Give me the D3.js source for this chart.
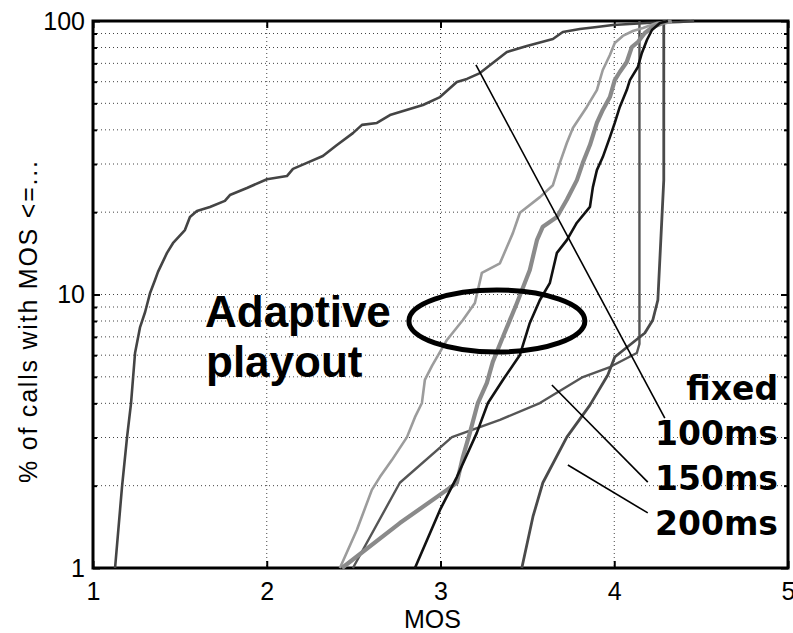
<!DOCTYPE html>
<html>
<head>
<meta charset="utf-8">
<script src="https://cdn.jsdelivr.net/npm/d3@7"></script>
<style>
  body { margin: 0; background: #fff; }
  svg { display: block; }
</style>
</head>
<body>
<svg id="chart" width="793" height="633"></svg>
<script>
// CDF of MOS per call: [MOS, % of calls with MOS <= value]
const fixed100 = [[1.127,1],[1.167,1.98],[1.196,3.01],[1.219,4.01],[1.242,6.11],[1.271,7.6],[1.30,8.63],[1.328,10.1],[1.357,11.3],[1.374,12.1],[1.426,14.2],[1.46,15.4],[1.529,17.2],[1.558,19.2],[1.598,20.2],[1.673,20.9],[1.759,22.0],[1.788,23.1],[1.886,24.5],[2.001,26.4],[2.116,27.1],[2.151,28.8],[2.231,30.3],[2.323,32.1],[2.404,35.2],[2.496,38.9],[2.548,41.7],[2.634,42.4],[2.709,45.3],[2.766,46.5],[2.899,49.3],[2.997,52.7],[3.094,59.8],[3.152,61.4],[3.227,64.5],[3.382,77.0],[3.497,81.0],[3.647,85.9],[3.704,91.2],[3.802,93.5],[3.90,95.1],[3.992,96.7],[4.188,98.3],[4.377,99.2],[4.46,100]];
const fixed150 = [[2.496,1],[2.766,2.05],[3.066,3.01],[3.342,3.48],[3.572,4.01],[3.819,4.99],[3.975,5.43],[4.13,6.11],[4.145,6.6],[4.145,100]];
const fixed200 = [[3.468,1],[3.532,1.54],[3.589,2.05],[3.727,3.01],[3.86,3.94],[3.963,5.08],[4.003,5.91],[4.176,7.23],[4.222,8.07],[4.251,9.55],[4.285,26.2],[4.285,100]];
const adaptiveLight = [[2.421,1],[2.519,1.38],[2.605,1.93],[2.651,2.15],[2.72,2.48],[2.807,3.01],[2.853,3.56],[2.893,4.01],[2.91,4.87],[2.951,5.48],[3.037,6.82],[3.129,8.07],[3.198,9.31],[3.238,12.0],[3.342,13.0],[3.417,16.8],[3.457,19.9],[3.572,22.7],[3.647,25.1],[3.687,30.3],[3.727,35.8],[3.762,40.6],[3.842,48.5],[3.90,55.9],[3.934,66.2],[3.975,75.1],[4.003,83.1],[4.049,88.2],[4.107,91.9],[4.165,94.3],[4.245,98.3],[4.32,100]];
const adaptiveThick = [[2.433,1],[2.766,1.46],[3.037,1.93],[3.094,2.05],[3.129,2.55],[3.169,3.12],[3.215,4.01],[3.267,4.75],[3.301,5.67],[3.359,6.99],[3.44,9.31],[3.514,12.3],[3.555,15.8],[3.589,17.7],[3.67,19.2],[3.727,22.2],[3.785,26.2],[3.819,30.3],[3.86,35.2],[3.90,42.4],[3.934,47.3],[3.975,52.7],[4.003,60.8],[4.032,65.1],[4.072,70.8],[4.101,80.3],[4.136,83.8],[4.176,90.4],[4.222,95.1],[4.28,98.3],[4.331,100]];
const adaptiveDark = [[2.853,1],[2.997,1.63],[3.094,2.15],[3.209,3.12],[3.273,4.01],[3.359,4.87],[3.457,6.01],[3.514,7.87],[3.572,9.55],[3.629,11.0],[3.67,14.2],[3.727,15.8],[3.785,18.3],[3.86,20.9],[3.877,24.7],[3.90,28.5],[3.934,31.8],[3.975,37.6],[4.003,42.4],[4.032,48.5],[4.072,55.9],[4.09,60.8],[4.136,67.9],[4.159,76.4],[4.188,85.2],[4.217,92.7],[4.263,98.3],[4.309,100]];

const xTicks = [1, 2, 3, 4, 5];
const yTicks = [1, 10, 100];
const yMinor = [2,3,4,5,6,7,8,9,20,30,40,50,60,70,80,90];

// pointer lines from the "fixed" labels to their curves
const pointers = [
  [[3.204, 69.1], [4.291, 3.53]],
  [[3.641, 4.67], [4.193, 2.06]],
  [[3.733, 2.38], [4.193, 1.59]]
];
const ellipseCenter = [3.3245, 8.0];

const M = {top: 21, right: 5, bottom: 65, left: 93};
const W = 793 - M.left - M.right, H = 633 - M.top - M.bottom;

const svg = d3.select("#chart");
const g = svg.append("g").attr("transform", `translate(${M.left},${M.top})`);

const x = d3.scaleLinear().domain([1, 5]).range([0, W]);
const y = d3.scaleLog().domain([1, 100]).range([H, 0]);

// dotted grid
const gridColor = "#444";
g.append("g").selectAll("line")
  .data(yMinor.concat([10]))
  .join("line")
    .attr("x1", 0).attr("x2", W)
    .attr("y1", d => y(d)).attr("y2", d => y(d))
    .attr("stroke", gridColor)
    .attr("stroke-width", 1)
    .attr("stroke-dasharray", "1,3");

g.append("g").selectAll("line")
  .data([2, 3, 4])
  .join("line")
    .attr("x1", d => x(d)).attr("x2", d => x(d))
    .attr("y1", 0).attr("y2", H)
    .attr("stroke", gridColor)
    .attr("stroke-width", 1)
    .attr("stroke-dasharray", "1,3");

// axes, ticks pointing inward
const styleAxis = (sel) => {
  sel.select(".domain").remove();
  sel.selectAll(".tick line").attr("stroke", "#000").attr("stroke-width", 2);
  sel.selectAll("text")
    .style("font-family", "'Liberation Sans', Arial, sans-serif")
    .style("font-size", "25px")
    .attr("fill", "#000");
};

g.append("g")
  .attr("transform", `translate(0,${H})`)
  .call(d3.axisBottom(x).tickValues(xTicks).tickFormat(d3.format("d")).tickSize(-7).tickSizeOuter(0).tickPadding(14))
  .call(styleAxis);

g.append("g")
  .call(d3.axisTop(x).tickValues(xTicks).tickFormat("").tickSize(-7).tickSizeOuter(0))
  .call(styleAxis);

g.append("g")
  .call(d3.axisLeft(y).tickValues(yTicks).tickFormat(d3.format("d")).tickSize(-7).tickSizeOuter(0).tickPadding(8))
  .call(styleAxis);

g.append("g")
  .attr("transform", `translate(${W},0)`)
  .call(d3.axisRight(y).tickValues(yTicks).tickFormat("").tickSize(-7).tickSizeOuter(0))
  .call(styleAxis);

g.append("g")
  .call(d3.axisLeft(y).tickValues(yMinor).tickFormat("").tickSize(-4).tickSizeOuter(0))
  .call(styleAxis);

g.append("g")
  .attr("transform", `translate(${W},0)`)
  .call(d3.axisRight(y).tickValues(yMinor).tickFormat("").tickSize(-4).tickSizeOuter(0))
  .call(styleAxis);

g.append("rect")
  .attr("width", W).attr("height", H)
  .attr("fill", "none")
  .attr("stroke", "#000")
  .attr("stroke-width", 3);

// curves
const line = d3.line().x(d => x(d[0])).y(d => y(d[1]));

const series = [
  {data: fixed100,      color: "#444",    width: 2.6},
  {data: fixed150,      color: "#555",    width: 2.4},
  {data: fixed200,      color: "#4a4a4a", width: 2.8},
  {data: adaptiveLight, color: "#9c9c9c", width: 2.6},
  {data: adaptiveThick, color: "#8a8a8a", width: 4.2},
  {data: adaptiveDark,  color: "#111",    width: 2.6}
];

g.append("g").selectAll("path")
  .data(series)
  .join("path")
    .attr("d", d => line(d.data))
    .attr("fill", "none")
    .attr("stroke", d => d.color)
    .attr("stroke-width", d => d.width)
    .attr("stroke-linejoin", "round");

// annotations
g.append("g").selectAll("line")
  .data(pointers)
  .join("line")
    .attr("x1", d => x(d[0][0])).attr("y1", d => y(d[0][1]))
    .attr("x2", d => x(d[1][0])).attr("y2", d => y(d[1][1]))
    .attr("stroke", "#000")
    .attr("stroke-width", 1.6);

g.append("ellipse")
  .attr("cx", x(ellipseCenter[0]))
  .attr("cy", y(ellipseCenter[1]))
  .attr("rx", 88).attr("ry", 31)
  .attr("fill", "none")
  .attr("stroke", "#000")
  .attr("stroke-width", 5);

const bigText = svg.append("g")
  .style("font-family", "'Liberation Sans', Arial, sans-serif")
  .style("font-weight", "700")
  .style("font-size", "44px");
bigText.append("text").attr("x", 205).attr("y", 327).text("Adaptive");
bigText.append("text").attr("x", 206).attr("y", 377).text("playout");

const fixedText = svg.append("g")
  .style("font-family", "'DejaVu Sans', sans-serif")
  .style("font-weight", "700")
  .style("font-size", "33px")
  .attr("text-anchor", "end");
[["fixed", 400], ["100ms", 445], ["150ms", 490], ["200ms", 535]].forEach(([t, yy]) => {
  fixedText.append("text").attr("x", 778).attr("y", yy).text(t);
});

// axis titles
svg.append("text")
  .attr("x", M.left + W / 2 - 8)
  .attr("y", 628)
  .attr("text-anchor", "middle")
  .style("font-family", "'Liberation Sans', Arial, sans-serif")
  .style("font-size", "25px")
  .text("MOS");

svg.append("text")
  .attr("transform", "translate(37,322) rotate(-90)")
  .attr("text-anchor", "middle")
  .attr("textLength", 322)
  .attr("lengthAdjust", "spacing")
  .style("font-family", "'Liberation Sans', Arial, sans-serif")
  .style("font-size", "25px")
  .text("% of calls with MOS <=...");
</script>
</body>
</html>
